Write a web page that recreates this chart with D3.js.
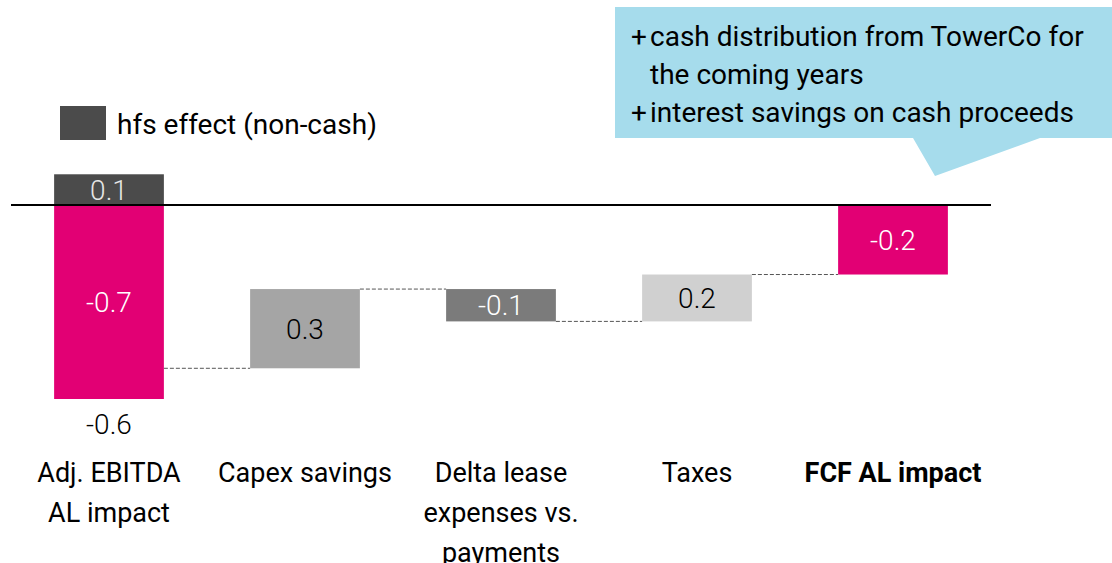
<!DOCTYPE html>
<html>
<head>
<meta charset="utf-8">
<script src="https://cdn.jsdelivr.net/npm/d3@7"></script>
<style>
  body { margin: 0; background: #fff; }
  svg { display: block; }
</style>
</head>
<body>
<div id="chart"></div>
<script>
const width = 1112;
const height = 563;

// categories (line-broken labels)
const categories = ['Adj. EBITDA AL impact', 'Capex savings', 'Delta lease expenses vs. payments', 'Taxes', 'FCF AL impact'];
const catLines = [['Adj. EBITDA', 'AL impact'], ['Capex savings'], ['Delta lease', 'expenses vs.', 'payments'], ['Taxes'], ['FCF AL impact']];

// values (bar heights), and the printed labels
const ebitdaTotal = -0.6;      // pink bar bottom
const hfsEffect = 0.095;       // non-cash part, dark segment above zero
const steps = [0.245, -0.1, 0.145];   // capex, delta lease, taxes
const barLabels = ['-0.7', '0.3', '-0.1', '0.2', '-0.2'];
const hfsLabel = '0.1';
const totalLabel = '-0.6';

const stepColors = ['#a5a5a5', '#7b7b7b', '#d0d0d0'];
const stepText = ['#000', '#fff', '#000'];
const magenta = '#e20074';
const font = 'Roboto, sans-serif';

const svg = d3.select('#chart').append('svg')
  .attr('width', width)
  .attr('height', height);

const x = d3.scaleBand()
  .domain(categories)
  .range([11, 991])
  .paddingInner(0.44)
  .paddingOuter(0.22);

const y = d3.scaleLinear()
  .domain([0, -0.6])
  .range([205, 399]);

// build waterfall
let running = ebitdaTotal + hfsEffect;
const bars = [];
bars.push({ cat: categories[0], y0: 0, y1: ebitdaTotal, fill: magenta, txt: '#fff', label: barLabels[0], end: running });
steps.forEach((v, i) => {
  const start = running;
  running = start + v;
  bars.push({ cat: categories[i + 1], y0: start, y1: running, fill: stepColors[i], txt: stepText[i], label: barLabels[i + 1], end: running });
});
bars.push({ cat: categories[4], y0: 0, y1: running, fill: magenta, txt: '#fff', label: barLabels[4], end: running });

// connectors
const conn = svg.append('g');
bars.slice(0, -1).forEach((b, i) => {
  conn.append('line')
    .attr('x1', x(b.cat) + x.bandwidth())
    .attr('x2', x(bars[i + 1].cat))
    .attr('y1', y(b.end))
    .attr('y2', y(b.end))
    .attr('stroke', '#555')
    .attr('stroke-width', 1)
    .attr('stroke-dasharray', '4,2');
});

// bars
svg.append('g').selectAll('rect')
  .data(bars)
  .join('rect')
  .attr('x', d => x(d.cat))
  .attr('width', x.bandwidth())
  .attr('y', d => y(Math.max(d.y0, d.y1)))
  .attr('height', d => Math.abs(y(d.y0) - y(d.y1)))
  .attr('fill', d => d.fill);

svg.append('g').selectAll('text')
  .data(bars)
  .join('text')
  .attr('x', d => x(d.cat) + x.bandwidth() / 2)
  .attr('y', d => (y(d.y0) + y(d.y1)) / 2)
  .attr('dy', '0.36em')
  .attr('text-anchor', 'middle')
  .attr('fill', d => d.txt)
  .style('font-family', font)
  .style('font-size', '28px')
  .style('font-weight', 300)
  .text(d => d.label);

// hfs segment
svg.append('rect')
  .attr('x', x(categories[0]))
  .attr('width', x.bandwidth())
  .attr('y', y(hfsEffect))
  .attr('height', y(0) - y(hfsEffect))
  .attr('fill', '#4b4b4b');

svg.append('text')
  .attr('x', x(categories[0]) + x.bandwidth() / 2)
  .attr('y', (y(0) + y(hfsEffect)) / 2)
  .attr('dy', '0.36em')
  .attr('text-anchor', 'middle')
  .attr('fill', '#e6e6e6')
  .style('font-family', font)
  .style('font-size', '28px')
  .style('font-weight', 300)
  .text(hfsLabel);

// total below first bar
svg.append('text')
  .attr('x', x(categories[0]) + x.bandwidth() / 2)
  .attr('y', y(ebitdaTotal) + 25)
  .attr('dy', '0.36em')
  .attr('text-anchor', 'middle')
  .style('font-family', font)
  .style('font-size', '28px')
  .style('font-weight', 300)
  .text(totalLabel);

// zero line
svg.append('line')
  .attr('x1', 11).attr('x2', 991)
  .attr('y1', y(0)).attr('y2', y(0))
  .attr('stroke', '#000')
  .attr('stroke-width', 2);

// category labels
const cl = svg.append('g');
catLines.forEach((lines, i) => {
  const t = cl.append('text')
    .attr('text-anchor', 'middle')
    .style('font-family', font)
    .style('font-size', '27px')
    .style('font-weight', i === 4 ? 700 : 400);
  lines.forEach((ln, j) => {
    t.append('tspan')
      .attr('x', x(categories[i]) + x.bandwidth() / 2)
      .attr('y', 482 + j * 40)
      .text(ln);
  });
});

// legend
svg.append('rect')
  .attr('x', 60).attr('y', 106)
  .attr('width', 46).attr('height', 34)
  .attr('fill', '#4b4b4b');
svg.append('text')
  .attr('x', 117).attr('y', 124)
  .attr('dy', '0.36em')
  .style('font-family', font)
  .style('font-size', '28px')
  .text('hfs effect (non-cash)');

// callout
const callout = svg.append('g');
callout.append('path')
  .attr('d', 'M615,7 H1112 V138 H1040 L935,176 L913,138 H615 Z')
  .attr('fill', '#a6dcec');
const notes = [['+', 'cash distribution from TowerCo for'], ['', 'the coming years'], ['+', 'interest savings on cash proceeds']];
notes.forEach((n, i) => {
  const yy = 36 + i * 38;
  callout.append('text')
    .attr('x', 631).attr('y', yy).attr('dy', '0.36em')
    .style('font-family', font).style('font-size', '28px')
    .text(n[0]);
  callout.append('text')
    .attr('x', 650).attr('y', yy).attr('dy', '0.36em')
    .style('font-family', font).style('font-size', '28px')
    .text(n[1]);
});
</script>
</body>
</html>
